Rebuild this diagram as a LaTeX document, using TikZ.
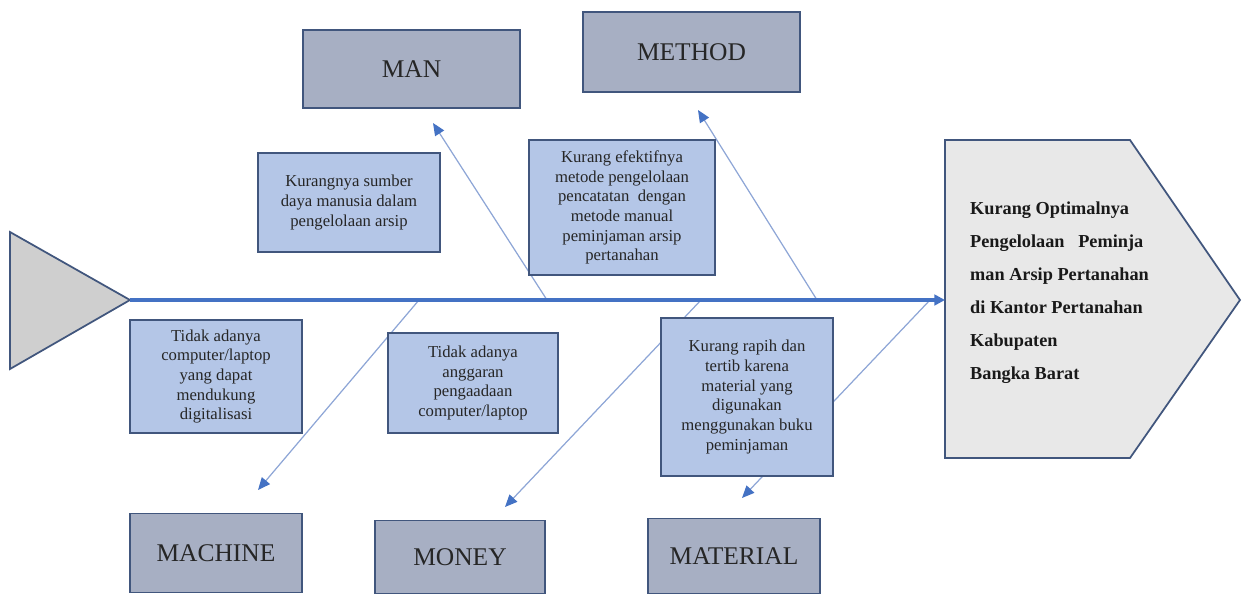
\documentclass[tikz,border=0pt]{standalone}
\usepackage{fontspec}
\setmainfont{Liberation Serif}
\usetikzlibrary{arrows.meta}
\definecolor{spineblue}{HTML}{4472C4}
\definecolor{edgeblue}{HTML}{41567D}
\definecolor{catfill}{HTML}{A7AFC3}
\definecolor{causefill}{HTML}{B4C6E7}
\definecolor{branchline}{HTML}{8EA6D6}
\definecolor{headfill}{HTML}{CFCFCF}
\definecolor{goalfill}{HTML}{E8E8E8}
\tikzset{
  catbox/.style={draw=edgeblue, line width=1pt, fill=catfill, inner sep=0pt,
    font=\fontsize{14.5}{17}\selectfont, text=black!85},
  causebox/.style={draw=edgeblue, line width=0.8pt, fill=causefill, inner sep=0pt,
    align=center, font=\fontsize{9.5}{11.2}\selectfont, text=black!85},
  branch/.style={draw=branchline, line width=0.7pt,
    -{Triangle[length=7pt, width=6pt, color=spineblue]}},
}
\begin{document}
\begin{tikzpicture}[x=0.02cm, y=-0.02cm]
  \useasboundingbox (0,0) rectangle (1242,593);

  % Fish head (left) and tail of the spine
  \draw[edgeblue, line width=1pt, fill=headfill] (10,232) -- (130,300) -- (10,369) -- cycle;
  \coordinate (tail) at (130,300);

  % Problem box on the right
  \coordinate (goal) at (945,300);
  \draw[edgeblue, line width=1pt, fill=goalfill]
    (945,140) -- (1130,140) -- (1240,300) -- (1130,458) -- (945,458) -- cycle;
  \node[anchor=west, align=left, text=black!90,
        font=\bfseries\fontsize{10.4}{18.8}\selectfont] (goaltext) at (964,293)
    {Kurang Optimalnya\\Pengelolaan\ \ \ Peminja\\man Arsip Pertanahan\\
     di Kantor Pertanahan\\Kabupaten\\Bangka Barat};

  % Branches
  \foreach \name/\sx/\ex/\ey in {man/547/433/123, method/817/698/110,
      machine/419/258/490, money/701/505/507, material/930/742/498} {
    \coordinate (\name-s) at (\sx,300);
    \coordinate (\name-t) at (\ex,\ey);
    \draw[branch] (\name-s) -- (\name-t);
  }

  % Spine
  \draw[spineblue, line width=2.2pt, -{Triangle[length=6pt, width=6pt]}] (tail) -- (goal);

  % Categories
  \node[catbox, minimum width=4.34cm, minimum height=1.56cm] (man) at (411.5,69) {MAN};
  \node[catbox, minimum width=4.34cm, minimum height=1.60cm] (method) at (691.5,52) {METHOD};
  \node[catbox, minimum width=3.44cm, minimum height=1.58cm] (machine) at (216,553) {MACHINE};
  \node[catbox, minimum width=3.40cm, minimum height=1.46cm] (money) at (460,557) {MONEY};
  \node[catbox, minimum width=3.44cm, minimum height=1.50cm] (material) at (734,556) {MATERIAL};

  % Causes
  \node[causebox, minimum width=3.64cm, minimum height=1.98cm] (mancause) at (349,202.5)
    {Kurangnya sumber\\daya manusia dalam\\pengelolaan arsip};
  \node[causebox, minimum width=3.72cm, minimum height=2.70cm] (methodcause) at (622,207.5)
    {Kurang efektifnya\\metode pengelolaan\\pencatatan\ \ dengan\\metode manual\\peminjaman arsip\\pertanahan};
  \node[causebox, minimum width=3.44cm, minimum height=2.26cm] (machinecause) at (216,376.5)
    {Tidak adanya\\computer/laptop\\yang dapat\\mendukung\\digitalisasi};
  \node[causebox, minimum width=3.40cm, minimum height=2.00cm] (moneycause) at (473,383)
    {Tidak adanya\\anggaran\\pengaadaan\\computer/laptop};
  \node[causebox, minimum width=3.44cm, minimum height=3.16cm] (materialcause) at (747,397)
    {Kurang rapih dan\\tertib karena\\material yang\\digunakan\\menggunakan buku\\peminjaman};
\end{tikzpicture}
\end{document}
